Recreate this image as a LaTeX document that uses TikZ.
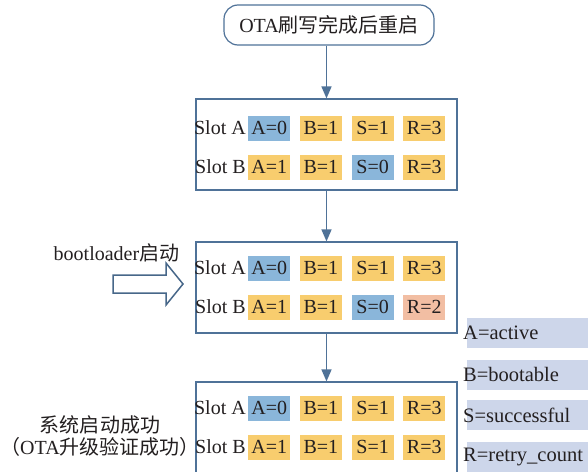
\documentclass[tikz,border=0pt]{standalone}
\usepackage{fontspec}
\setmainfont{Liberation Serif}
\newfontfamily\cjk{Noto Sans CJK SC}
\usetikzlibrary{arrows.meta}
\definecolor{lineblue}{HTML}{4F7298}
\definecolor{cblue}{HTML}{8AB6DA}
\definecolor{cyel}{HTML}{F8CD6E}
\definecolor{csal}{HTML}{F2BEA3}
\definecolor{cleg}{HTML}{CDD6EA}
\definecolor{txt}{HTML}{231F20}
\tikzset{
  every node/.style={text=txt, font=\fontsize{20}{21.5}\selectfont},
  slotbox/.style={draw=lineblue, line width=1.2pt, fill=white, minimum width=261pt, minimum height=91pt, inner sep=0pt},
  topbox/.style={draw=lineblue, line width=1.2pt, rounded corners=14pt, minimum width=210pt, minimum height=40pt, inner sep=0pt},
  cell/.style={minimum width=42pt, minimum height=25pt, inner sep=0pt},
  slotlbl/.style={anchor=east, inner xsep=1pt, inner ysep=0pt},
  legend/.style={fill=cleg, anchor=west, text width=134pt, align=left, inner xsep=-4pt, minimum height=30pt, inner ysep=0pt, font=\fontsize{20.5}{22}\selectfont},
  flow/.style={draw=lineblue, line width=1.5pt, -{Triangle[length=12pt,width=10pt]}},
}
\newcommand\slotrow[4]{%
  \node[slotlbl] (#1l) at (247,#2) {#3};
  \foreach \c/\t [count=\i] in {#4} {\node[cell,fill=\c] (#1c\i) at ({217.5+51.7*\i},#2) {\t};}
}
\begin{document}
\begin{tikzpicture}[x=1pt,y=-1pt]
\useasboundingbox (0,0) rectangle (588,471);
\clip (0,0) rectangle (588,471);
% top
\node[topbox] (top) at (329,25) {OTA{\cjk 刷写完成后重启}};
% boxes
\node[slotbox] (b1) at (326.5,144.5) {};
\node[slotbox] (b2) at (326.5,287.5) {};
\node[slotbox] (b3) at (326.5,427.5) {};
\slotrow{b1a}{128}{Slot A}{cblue/A=0, cyel/B=1, cyel/S=1, cyel/R=3}
\slotrow{b1b}{167}{Slot B}{cyel/A=1, cyel/B=1, cblue/S=0, cyel/R=3}
\slotrow{b2a}{268}{Slot A}{cblue/A=0, cyel/B=1, cyel/S=1, cyel/R=3}
\slotrow{b2b}{307}{Slot B}{cyel/A=1, cyel/B=1, cblue/S=0, csal/R=2}
\slotrow{b3a}{408}{Slot A}{cblue/A=0, cyel/B=1, cyel/S=1, cyel/R=3}
\slotrow{b3b}{447}{Slot B}{cyel/A=1, cyel/B=1, cyel/S=1, cyel/R=3}
% arrows
\draw[flow] (top.south -| b1.north) -- (b1.north);
\draw[flow] (b1.south) -- (b2.north);
\draw[flow] (b2.south) -- (b3.north);
% bootloader
\node (boot) at (116.5,253) {bootloader{\cjk 启动}};
\draw[draw=lineblue!90!black, line width=1.5pt, fill=white, line join=miter]
  (113,275) -- (166,275) -- (166,263) -- (183,284) -- (166,305) -- (166,293) -- (113,293) -- cycle;
% success
\node[align=center, inner xsep=0pt] (succ) at (100,436) {{\cjk 系统启动成功}\\{\cjk （}OTA{\cjk 升级验证成功）}};
% legend
\node[legend] (la) at (467,333) {A=active};
\node[legend] (lb) at (467,374.5) {B=bootable};
\node[legend] (ls) at (467,415) {S=successful};
\node[legend] (lr) at (467,457) {R=retry\_count};
\end{tikzpicture}
\end{document}
